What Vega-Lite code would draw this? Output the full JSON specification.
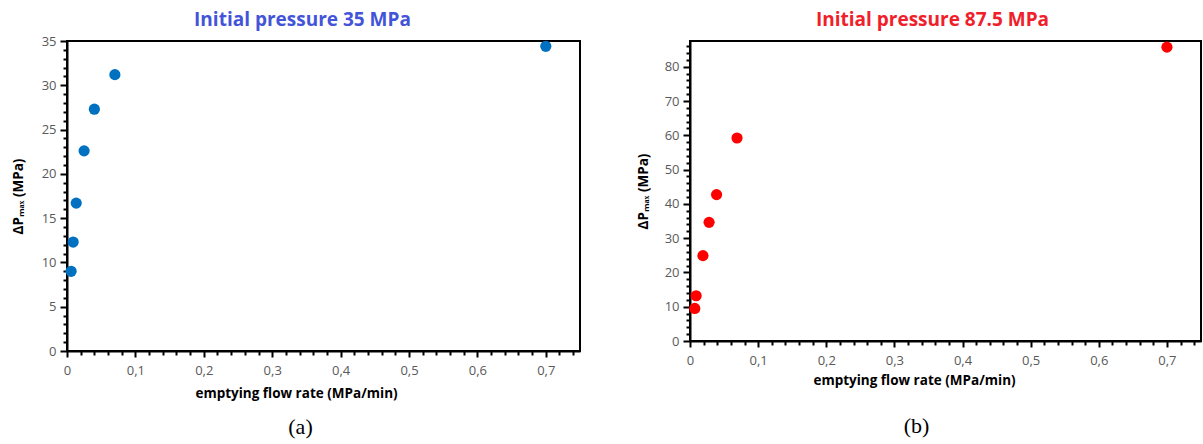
{
  "$schema": "https://vega.github.io/schema/vega-lite/v6.json",
  "background": "white",
  "padding": {"left": 10, "top": 9, "right": 0, "bottom": 5},
  "bounds": "flush",
  "spacing": 110,
  "config": {
    "view": {"stroke": "black", "strokeWidth": 2},
    "axis": {
      "grid": false,
      "domainColor": "black",
      "domainWidth": 2,
      "tickColor": "black",
      "tickWidth": 2,
      "labelFont": "Open Sans",
      "labelFontSize": 13,
      "labelColor": "#595959",
      "labelOverlap": false,
      "labelFlush": false,
      "titleFont": "Open Sans",
      "titleFontSize": 13.5,
      "titleFontWeight": "bold",
      "titleColor": "black"
    },
    "title": {"font": "Liberation Serif", "fontSize": 22, "fontWeight": "normal", "color": "black"}
  },
  "hconcat": [
    {
      "width": 513,
      "height": 310,
      "title": {"text": "(a)", "orient": "bottom", "frame": "group", "anchor": "middle", "dx": -23, "offset": 17},
      "data": {"values": [
        {"flow": 0.006, "dp": 9.0},
        {"flow": 0.009, "dp": 12.3},
        {"flow": 0.0135, "dp": 16.7},
        {"flow": 0.025, "dp": 22.6},
        {"flow": 0.04, "dp": 27.3},
        {"flow": 0.07, "dp": 31.2},
        {"flow": 0.7, "dp": 34.4}
      ]},
      "layer": [
        {
          "mark": {"type": "point", "filled": true, "shape": "circle", "size": 125, "color": "#0070C0", "opacity": 1},
          "encoding": {
            "x": {"field": "flow", "type": "quantitative", "scale": {"domain": [0, 0.75], "nice": false},
              "axis": {"title": "emptying flow rate (MPa/min)", "orient": "bottom",
                "values": [0, 0.02, 0.04, 0.06, 0.08, 0.1, 0.12, 0.14, 0.16, 0.18, 0.2, 0.22, 0.24, 0.26, 0.28, 0.3, 0.32, 0.34, 0.36, 0.38, 0.4, 0.42, 0.44, 0.46, 0.48, 0.5, 0.52, 0.54, 0.56, 0.58, 0.6, 0.62, 0.64, 0.66, 0.68, 0.7, 0.72, 0.74],
                "tickSize": {"condition": {"test": "abs(datum.value*10 - round(datum.value*10)) < 0.000001", "value": 6}, "value": 4},
                "labelPadding": 7, "titlePadding": 9, "titleX": 229,
                "labelExpr": "abs(datum.value*10 - round(datum.value*10)) < 0.000001 ? (datum.value == 0 ? '0' : replace(format(datum.value, '.1f'), '.', ',')) : ''"}},
            "y": {"field": "dp", "type": "quantitative", "scale": {"domain": [0, 35], "nice": false},
              "axis": {"title": "ΔPₘₐₓ (MPa)", "orient": "left",
                "values": [0, 1, 2, 3, 4, 5, 6, 7, 8, 9, 10, 11, 12, 13, 14, 15, 16, 17, 18, 19, 20, 21, 22, 23, 24, 25, 26, 27, 28, 29, 30, 31, 32, 33, 34, 35],
                "tickSize": {"condition": {"test": "datum.value % 5 == 0", "value": 7}, "value": 4},
                "labelExpr": "datum.value % 5 == 0 ? datum.label : ''",
                "labelPadding": 4, "titlePadding": 16}}
          }
        },
        {
          "mark": {"type": "point", "opacity": 0},
          "encoding": {
            "x": {"field": "flow", "type": "quantitative", "scale": {"domain": [0, 0.75], "nice": false},
              "axis": {"title": "Initial pressure 35 MPa", "orient": "top", "labels": false, "ticks": false, "domain": false,
                "titleFont": "Open Sans", "titleFontSize": 19, "titleFontWeight": "bold", "titleColor": "#4354D8", "titlePadding": 12, "titleX": 235}}
          }
        }
      ],
      "resolve": {"axis": {"x": "independent"}}
    },
    {
      "width": 511,
      "height": 300,
      "title": {"text": "(b)", "orient": "bottom", "frame": "group", "anchor": "middle", "dx": -29, "offset": 29},
      "data": {"values": [
        {"flow": 0.007, "dp": 9.5},
        {"flow": 0.009, "dp": 13.2},
        {"flow": 0.019, "dp": 24.9},
        {"flow": 0.028, "dp": 34.6},
        {"flow": 0.039, "dp": 42.7},
        {"flow": 0.069, "dp": 59.2},
        {"flow": 0.7, "dp": 85.7}
      ]},
      "layer": [
        {
          "mark": {"type": "point", "filled": true, "shape": "circle", "size": 125, "color": "#FF0000", "opacity": 1},
          "encoding": {
            "x": {"field": "flow", "type": "quantitative", "scale": {"domain": [0, 0.75], "nice": false},
              "axis": {"title": "emptying flow rate (MPa/min)", "orient": "bottom",
                "values": [0, 0.02, 0.04, 0.06, 0.08, 0.1, 0.12, 0.14, 0.16, 0.18, 0.2, 0.22, 0.24, 0.26, 0.28, 0.3, 0.32, 0.34, 0.36, 0.38, 0.4, 0.42, 0.44, 0.46, 0.48, 0.5, 0.52, 0.54, 0.56, 0.58, 0.6, 0.62, 0.64, 0.66, 0.68, 0.7, 0.72, 0.74],
                "tickSize": {"condition": {"test": "abs(datum.value*10 - round(datum.value*10)) < 0.000001", "value": 6}, "value": 4},
                "labelPadding": 7, "titlePadding": 6, "titleX": 224,
                "labelExpr": "abs(datum.value*10 - round(datum.value*10)) < 0.000001 ? (datum.value == 0 ? '0' : replace(format(datum.value, '.1f'), '.', ',')) : ''"}},
            "y": {"field": "dp", "type": "quantitative", "scale": {"domain": [0, 87.5], "nice": false},
              "axis": {"title": "ΔPₘₐₓ (MPa)", "orient": "left",
                "values": [0, 2, 4, 6, 8, 10, 12, 14, 16, 18, 20, 22, 24, 26, 28, 30, 32, 34, 36, 38, 40, 42, 44, 46, 48, 50, 52, 54, 56, 58, 60, 62, 64, 66, 68, 70, 72, 74, 76, 78, 80, 82, 84, 86],
                "tickSize": {"condition": {"test": "datum.value % 10 == 0", "value": 7}, "value": 4},
                "labelExpr": "datum.value % 10 == 0 ? datum.label : ''",
                "labelPadding": 4, "titlePadding": 14}}
          }
        },
        {
          "mark": {"type": "point", "opacity": 0},
          "encoding": {
            "x": {"field": "flow", "type": "quantitative", "scale": {"domain": [0, 0.75], "nice": false},
              "axis": {"title": "Initial pressure 87.5 MPa", "orient": "top", "labels": false, "ticks": false, "domain": false,
                "titleFont": "Open Sans", "titleFontSize": 19, "titleFontWeight": "bold", "titleColor": "#F0202A", "titlePadding": 12, "titleX": 242}}
          }
        }
      ],
      "resolve": {"axis": {"x": "independent"}}
    }
  ]
}
